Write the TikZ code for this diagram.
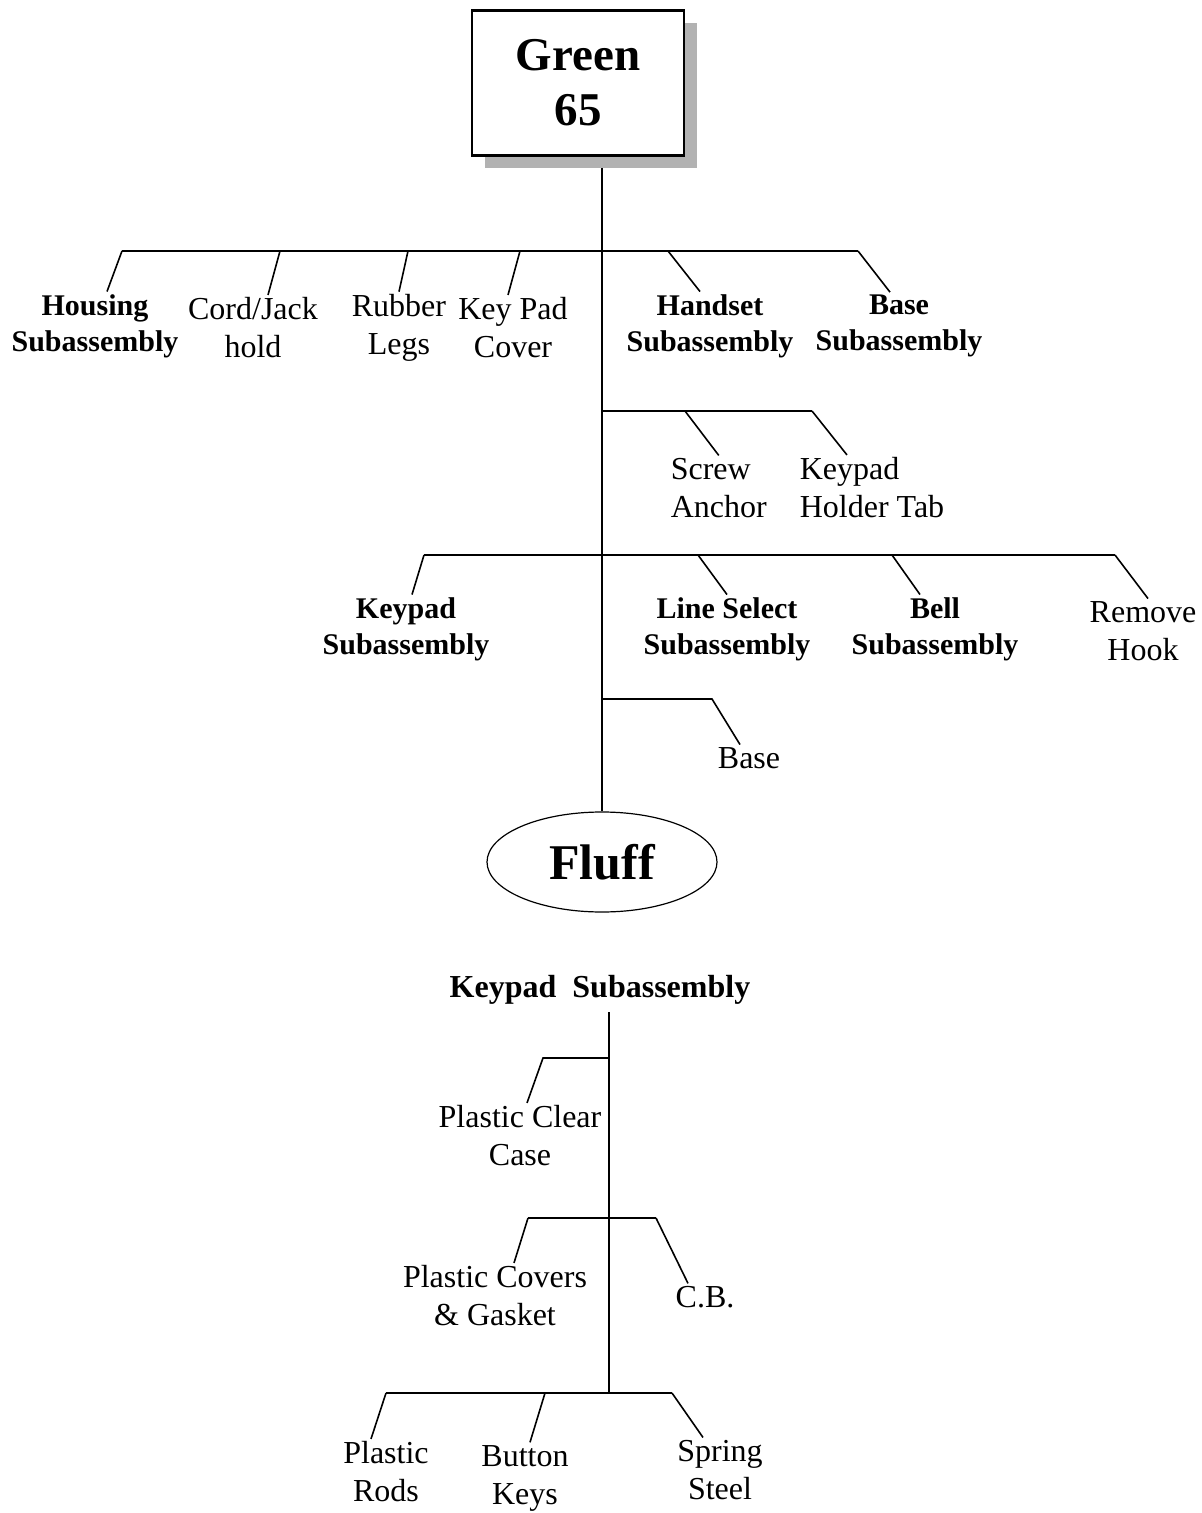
\documentclass[tikz,border=0pt]{standalone}
\usepackage{fontspec}
\setmainfont{Liberation Serif}
\usetikzlibrary{shapes.geometric,shadows}

\tikzset{
  part/.style={align=center, inner sep=1pt, font=\fontsize{16}{19}\selectfont},
  sub/.style={part, font=\fontsize{15}{18}\selectfont\bfseries},
}

\begin{document}
\begin{tikzpicture}[x=0.5pt, y=-0.5pt, line width=0.8pt]
\useasboundingbox (0,0) rectangle (1201,1513);

% product and its fluff
\node[draw, line width=1.2pt, fill=white, minimum width=106pt, minimum height=72.5pt,
      align=center, font=\fontsize{23.5}{27.5}\selectfont\bfseries,
      drop shadow={shadow xshift=6.5pt, shadow yshift=-6.5pt, fill=black!30, opacity=1}]
      (green) at (578,83) {Green\\65};
\node[draw, ellipse, line width=0.6pt, minimum width=115pt, minimum height=50pt,
      font=\fontsize{25}{30}\selectfont\bfseries] (fluff) at (602,862) {Fluff};
\coordinate (top) at (602,168);
\draw (top) -- (fluff.north);

% first level
\node[sub]  (hous) at (95,326)  {Housing\\Subassembly};
\node[part] (cord) at (253,328) {Cord/Jack\\hold};
\node[part] (legs) at (399,328) {Rubber\\Legs};
\node[part] (kpc)  at (513,328) {Key Pad\\Cover};
\node[sub]  (hset) at (710,326) {Handset\\Subassembly};
\node[sub]  (bsub) at (899,326) {Base\\Subassembly};
\path (122,251) coordinate (a1) (280,251) coordinate (a2) (408,251) coordinate (a3)
      (520,251) coordinate (a4) (668,251) coordinate (a5) (858,251) coordinate (a6);
\draw (a1) -- (a6);
\draw (a1) -- ([xshift=6pt]hous.north);
\draw (a2) -- ([xshift=7.5pt]cord.north);
\draw (a3) -- (legs.north);
\draw (a4) -- ([xshift=-2.5pt]kpc.north);
\draw (a5) -- ([xshift=-5pt]hset.north);
\draw (a6) -- ([xshift=-4.5pt]bsub.north);

% second level
\node[part, align=left, anchor=west] (screw)  at (668,488) {Screw\\Anchor};
\node[part, align=left, anchor=west] (holder) at (797,488) {Keypad\\Holder Tab};
\path (602,411) coordinate (b0) (685,411) coordinate (b1) (812,411) coordinate (b2);
\draw (b0) -- (b2);
\draw (b1) -- (screw.north);
\draw (b2) -- ([xshift=-12.5pt]holder.north);

% third level
\node[sub]  (kpsub) at (406,629)  {Keypad\\Subassembly};
\node[sub]  (lsel)  at (727,629)  {Line Select\\Subassembly};
\node[sub]  (bell)  at (935,629)  {Bell\\Subassembly};
\node[part] (rhook) at (1143,631) {Remove\\Hook};
\path (424,555) coordinate (c1) (698,555) coordinate (c2)
      (892,555) coordinate (c3) (1115,555) coordinate (c4);
\draw (c1) -- (c4);
\draw (c1) -- ([xshift=3pt]kpsub.north);
\draw (c2) -- (lsel.north);
\draw (c3) -- ([xshift=-7.5pt]bell.north);
\draw (c4) -- ([xshift=2.5pt]rhook.north);

% fourth level
\node[part] (base) at (749,758) {Base};
\path (602,699) coordinate (d0) (712,699) coordinate (d1);
\draw (d0) -- (d1) -- ([xshift=-4.5pt]base.north);

% keypad subassembly
\node[sub, font=\fontsize{16}{19}\selectfont\bfseries] (ksub) at (600,990) {Keypad\ \ Subassembly};
\path (609,1012) coordinate (k0) (609,1058) coordinate (k1) (543,1058) coordinate (k2)
      (609,1218) coordinate (k3) (528,1218) coordinate (k4) (656,1218) coordinate (k5)
      (609,1393) coordinate (k6) (386,1393) coordinate (k7) (545,1393) coordinate (k8)
      (672,1393) coordinate (k9);
\draw (k0) -- (k6);

\node[part] (case) at (520,1136) {Plastic Clear\\Case};
\draw (k1) -- (k2) -- ([xshift=3.5pt]case.north);

\node[part] (cover) at (495,1296) {Plastic Covers\\\& Gasket};
\node[part] (cb)    at (705,1297) {C.B.};
\draw (k4) -- (k5);
\draw (k4) -- ([xshift=9.5pt]cover.north);
\draw (k5) -- ([xshift=-8.5pt]cb.north);

\node[part] (rods)  at (386,1472) {Plastic\\Rods};
\node[part] (keys)  at (525,1478) {Button\\Keys};
\node[part] (steel) at (720,1470) {Spring\\Steel};
\draw (k7) -- (k9);
\draw (k7) -- ([xshift=-7.5pt]rods.north);
\draw (k8) -- ([xshift=2.5pt]keys.north);
\draw (k9) -- ([xshift=-8.5pt]steel.north);
\end{tikzpicture}
\end{document}
